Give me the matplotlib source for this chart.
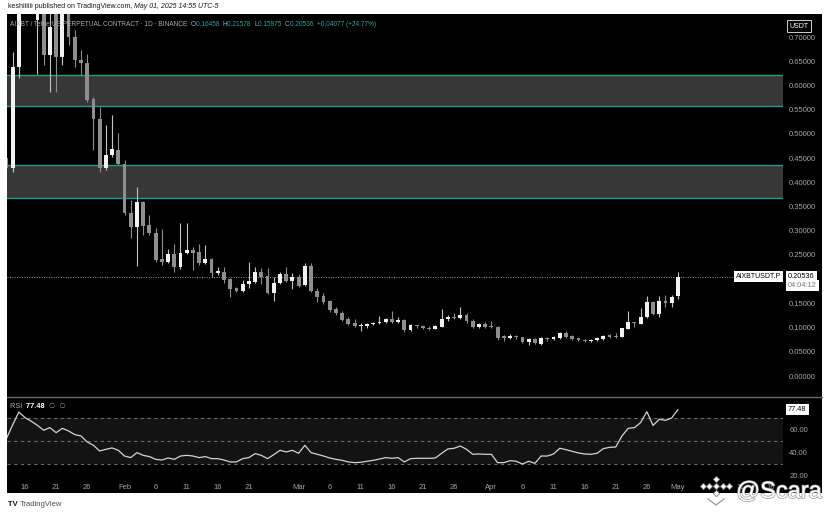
import numpy as np
import pandas as pd
import matplotlib
matplotlib.use("Agg")
import matplotlib.pyplot as plt
from matplotlib import patheffects, transforms
from matplotlib.patches import Rectangle
from matplotlib.lines import Line2D

plt.rcParams['font.family'] = ['Liberation Sans', 'DejaVu Sans']

# daily candles, AIXBTUSDT.P, starting 2025-01-13
start_date = "2025-01-13"
opens = [0.450, 0.430, 0.638, 0.870, 0.840, 0.735, 0.780, 0.663, 0.760, 0.659,
         0.760, 0.700, 0.653, 0.646, 0.572, 0.531, 0.430, 0.456, 0.467, 0.438,
         0.337, 0.308, 0.359, 0.312, 0.295, 0.242, 0.235, 0.252, 0.225, 0.254,
         0.260, 0.256, 0.233, 0.242, 0.213, 0.215, 0.200, 0.182, 0.176, 0.190,
         0.194, 0.215, 0.206, 0.171, 0.192, 0.211, 0.196, 0.204, 0.188, 0.227,
         0.176, 0.165, 0.155, 0.138, 0.130, 0.118, 0.109, 0.104, 0.103, 0.107,
         0.109, 0.111, 0.117, 0.112, 0.115, 0.095, 0.105, 0.103, 0.099, 0.098,
         0.101, 0.118, 0.121, 0.120, 0.126, 0.114, 0.101, 0.107, 0.104, 0.101,
         0.082, 0.078, 0.083, 0.080, 0.070, 0.076, 0.066, 0.078, 0.076, 0.078,
         0.089, 0.082, 0.078, 0.074, 0.073, 0.074, 0.076, 0.084, 0.082, 0.081,
         0.097, 0.112, 0.108, 0.122, 0.153, 0.128, 0.155, 0.150, 0.16458]
highs = [0.473, 0.669, 0.900, 0.950, 0.880, 0.800, 0.790, 0.760, 0.770, 0.780,
         0.770, 0.715, 0.673, 0.665, 0.576, 0.556, 0.518, 0.539, 0.502, 0.446,
         0.363, 0.390, 0.362, 0.332, 0.306, 0.304, 0.262, 0.273, 0.316, 0.316,
         0.266, 0.273, 0.270, 0.244, 0.225, 0.225, 0.202, 0.184, 0.198, 0.235,
         0.225, 0.223, 0.223, 0.204, 0.215, 0.225, 0.213, 0.211, 0.233, 0.233,
         0.182, 0.171, 0.157, 0.142, 0.134, 0.122, 0.118, 0.109, 0.109, 0.111,
         0.124, 0.120, 0.134, 0.122, 0.118, 0.107, 0.106, 0.105, 0.103, 0.105,
         0.138, 0.126, 0.130, 0.142, 0.130, 0.117, 0.109, 0.112, 0.114, 0.103,
         0.085, 0.087, 0.084, 0.081, 0.078, 0.078, 0.081, 0.080, 0.082, 0.091,
         0.093, 0.084, 0.079, 0.077, 0.077, 0.080, 0.085, 0.087, 0.088, 0.100,
         0.134, 0.112, 0.140, 0.165, 0.155, 0.165, 0.167, 0.167, 0.21578]
lows = [0.363, 0.421, 0.615, 0.790, 0.760, 0.624, 0.642, 0.586, 0.586, 0.642,
        0.684, 0.638, 0.622, 0.565, 0.467, 0.421, 0.425, 0.452, 0.436, 0.333,
        0.285, 0.227, 0.291, 0.291, 0.235, 0.229, 0.233, 0.215, 0.221, 0.252,
        0.219, 0.229, 0.231, 0.204, 0.208, 0.192, 0.163, 0.173, 0.173, 0.182,
        0.192, 0.190, 0.169, 0.155, 0.190, 0.194, 0.180, 0.184, 0.186, 0.173,
        0.153, 0.149, 0.132, 0.126, 0.113, 0.105, 0.101, 0.093, 0.099, 0.105,
        0.107, 0.109, 0.109, 0.109, 0.091, 0.093, 0.099, 0.097, 0.096, 0.097,
        0.101, 0.114, 0.118, 0.118, 0.110, 0.099, 0.099, 0.100, 0.099, 0.074,
        0.072, 0.076, 0.077, 0.068, 0.064, 0.066, 0.064, 0.072, 0.074, 0.076,
        0.078, 0.074, 0.072, 0.071, 0.071, 0.073, 0.074, 0.079, 0.079, 0.080,
        0.097, 0.101, 0.107, 0.120, 0.126, 0.122, 0.142, 0.142, 0.15975]
closes = [0.430, 0.638, 0.870, 0.840, 0.790, 0.780, 0.663, 0.720, 0.659, 0.760,
          0.700, 0.653, 0.646, 0.570, 0.531, 0.430, 0.456, 0.469, 0.438, 0.337,
          0.308, 0.359, 0.310, 0.295, 0.240, 0.235, 0.252, 0.225, 0.254, 0.260,
          0.254, 0.233, 0.242, 0.213, 0.217, 0.198, 0.180, 0.176, 0.190, 0.196,
          0.215, 0.204, 0.171, 0.192, 0.211, 0.196, 0.204, 0.186, 0.227, 0.176,
          0.163, 0.153, 0.136, 0.130, 0.116, 0.107, 0.103, 0.105, 0.107, 0.109,
          0.111, 0.117, 0.112, 0.115, 0.095, 0.105, 0.103, 0.099, 0.098, 0.103,
          0.118, 0.122, 0.120, 0.126, 0.114, 0.101, 0.107, 0.102, 0.101, 0.078,
          0.078, 0.083, 0.080, 0.070, 0.076, 0.068, 0.078, 0.076, 0.080, 0.089,
          0.080, 0.076, 0.074, 0.073, 0.074, 0.078, 0.083, 0.081, 0.0815, 0.099,
          0.112, 0.110, 0.122, 0.153, 0.128, 0.155, 0.151, 0.163, 0.20536]
rsi = [52.0, 64.0, 75.4, 70.5, 67.3, 63.7, 59.4, 61.7, 57.3, 61.1,
       58.8, 55.6, 54.4, 49.1, 46.2, 41.2, 42.7, 43.9, 41.8, 36.8,
       35.4, 39.8, 37.4, 36.3, 33.9, 33.3, 35.1, 33.9, 36.8, 37.4,
       36.8, 35.4, 36.3, 34.5, 34.5, 33.3, 31.6, 31.6, 34.5, 35.4,
       38.9, 37.4, 34.5, 38.0, 41.8, 40.4, 41.8, 39.2, 46.2, 39.8,
       38.3, 36.8, 35.1, 33.9, 33.0, 31.6, 31.0, 31.3, 32.2, 33.0,
       34.2, 35.4, 34.8, 35.4, 31.6, 34.5, 34.8, 34.8, 34.8, 35.1,
       39.2, 43.0, 43.6, 45.6, 42.7, 38.3, 38.6, 38.3, 38.3, 31.0,
       31.0, 32.7, 32.2, 29.8, 32.2, 30.4, 36.8, 36.8, 38.6, 43.6,
       42.4, 40.9, 39.5, 38.6, 38.3, 39.2, 43.3, 44.4, 44.7, 54.4,
       61.1, 61.7, 66.1, 75.7, 63.7, 69.0, 68.1, 70.2, 77.48]

# supply / demand zones
zones = [(0.558, 0.621), (0.368, 0.436)]

tick_dates = ["2025-01-16", "2025-01-21", "2025-01-26", "2025-02-01", "2025-02-06",
              "2025-02-11", "2025-02-16", "2025-02-21", "2025-03-01", "2025-03-06",
              "2025-03-11", "2025-03-16", "2025-03-21", "2025-03-26", "2025-04-01",
              "2025-04-06", "2025-04-11", "2025-04-16", "2025-04-21", "2025-04-26",
              "2025-05-01", "2025-05-06", "2025-05-11", "2025-05-16"]
tick_labels = ["16", "21", "26", "Feb", "6", "11", "16", "21", "Mar", "6", "11", "16",
               "21", "26", "Apr", "6", "11", "16", "21", "26", "May", "6", "11", "16"]
price_ticks = [0.0, 0.05, 0.10, 0.15, 0.25, 0.30, 0.35, 0.40, 0.45, 0.50, 0.55,
               0.60, 0.65, 0.70]
rsi_ticks = [20, 40, 60]

W, H = 828, 515
def fx(px):
    return px / W
def fy(py):
    return 1 - py / H

UP = '#f2f2f2'
UP_WICK = '#c4c4c4'
DOWN = '#8e8e8e'
TEAL = '#1f9e8f'
AXIS_TXT = '#a3a6ad'

fig = plt.figure(figsize=(8.28, 5.15), dpi=100, facecolor='white')
fig.add_artist(Rectangle((fx(7), fy(493)), fx(822) - fx(7), fy(14) - fy(493),
                         transform=fig.transFigure, facecolor='black',
                         edgecolor='none', zorder=0))

ax = fig.add_axes([fx(7), fy(396), fx(783) - fx(7), fy(14) - fy(396)])
ax_rsi = fig.add_axes([fx(7), fy(477), fx(783) - fx(7), fy(398) - fy(477)], sharex=ax)
for a in (ax, ax_rsi):
    a.set_facecolor('black')
    for sp in a.spines.values():
        sp.set_visible(False)
    a.tick_params(axis='both', length=0, labelsize=5.5, labelcolor=AXIS_TXT)
    a.yaxis.tick_right()

o = np.array(opens); h = np.array(highs); l = np.array(lows); c = np.array(closes)
x = np.arange(len(c))
up = c >= o
bottom = np.minimum(o, c)
height = np.maximum(np.abs(c - o), 0.0012)

for lo, hi in zones:
    ax.axhspan(lo, hi, facecolor='#373737', edgecolor='none', zorder=1)
    ax.axhline(lo, color=TEAL, lw=1.0, zorder=2)
    ax.axhline(hi, color=TEAL, lw=1.0, zorder=2)

ax.vlines(x[up], l[up], h[up], color=UP_WICK, lw=0.8, zorder=3)
ax.vlines(x[~up], l[~up], h[~up], color=DOWN, lw=0.8, zorder=3)
ax.bar(x[up], height[up], bottom=bottom[up], width=0.62, color=UP, lw=0, zorder=4)
ax.bar(x[~up], height[~up], bottom=bottom[~up], width=0.62, color=DOWN, lw=0, zorder=4)

ax.axhline(c[-1], color='#9a9a9a', lw=0.7, ls=(0, (1, 1.5)), zorder=2)

ax.set_xlim(0.1, 124.9)
ax.set_ylim(-0.0413, 0.7476)
ax.set_yticks(price_ticks)
ax.set_yticklabels([f"{v:.5f}" for v in price_ticks])
ax.tick_params(axis='y', pad=4.5)
ax.tick_params(axis='x', labelbottom=False)

# RSI pane
ax_rsi.axhspan(30, 70, facecolor='#131313', edgecolor='none', zorder=1)
for lvl in (30, 50, 70):
    ax_rsi.axhline(lvl, color='#6a6a6a', lw=0.8, ls=(0, (3, 3)), zorder=2)
ax_rsi.plot(x, rsi, color='#d1d4dc', lw=0.9, zorder=3)
ax_rsi.set_ylim(18.4, 87.7)
ax_rsi.set_yticks(rsi_ticks)
ax_rsi.set_yticklabels([f"{v:.2f}" for v in rsi_ticks])
ax_rsi.tick_params(axis='y', pad=4.5)
start = pd.Timestamp(start_date)
tick_pos = [(pd.Timestamp(d) - start).days for d in tick_dates]
ax_rsi.set_xticks(tick_pos)
ax_rsi.set_xticklabels(tick_labels)
ax_rsi.tick_params(axis='x', pad=5)

# pane separator
fig.add_artist(Line2D([fx(7), fx(822)], [fy(397), fy(397)], transform=fig.transFigure,
                      color='#6b6b6b', lw=1.0))

renderer = fig.canvas.get_renderer()

def seq_text(x_px, y_px, parts, size):
    for s, col, kw in parts:
        t = fig.text(fx(x_px), fy(y_px), s, color=col, fontsize=size,
                     ha='left', va='center', **kw)
        x_px += t.get_window_extent(renderer).width

seq_text(8, 7, [("keshiiiiii published on TradingView.com, ", '#131722', {}),
                ("May 01, 2025 14:55 UTC-5", '#131722', {'style': 'italic'})], 5.0)

seq_text(10, 25, [("AIXBT / TetherUS PERPETUAL CONTRACT \u00b7 1D \u00b7 BINANCE  ", '#a8abb2', {}),
                  ("O", '#a8abb2', {}), ("0.16458  ", '#26a69a', {}),
                  ("H", '#a8abb2', {}), ("0.21578  ", '#26a69a', {}),
                  ("L", '#a8abb2', {}), ("0.15975  ", '#26a69a', {}),
                  ("C", '#a8abb2', {}), ("0.20536  ", '#26a69a', {}),
                  ("+0.04077 (+24.77%)", '#26a69a', {})], 4.7)

seq_text(10, 406, [("RSI  ", '#a8abb2', {}), ("77.48  ", '#ffffff', {'fontweight': 'bold'}),
                   ("\u2205  \u2205", '#8a8a8a', {})], 5.3)

# right-side value labels
tr_main = transforms.blended_transform_factory(fig.transFigure, ax.transData)
tr_rsi = transforms.blended_transform_factory(fig.transFigure, ax_rsi.transData)
box = dict(boxstyle='square,pad=0.3', fc='white', ec='none')
ax.text(fx(781), c[-1], "AIXBTUSDT.P", transform=tr_main, ha='right', va='center',
        fontsize=5, color='black', bbox=box, clip_on=False, zorder=10)
ax.text(fx(788), c[-1], "0.20536", transform=tr_main, ha='left', va='center',
        fontsize=5.3, color='black', bbox=box, clip_on=False, zorder=10)
ax.text(fx(788), c[-1] - 0.019, "04:04:12", transform=tr_main, ha='left', va='center',
        fontsize=5.3, color='#777777', bbox=box, clip_on=False, zorder=10)
ax_rsi.text(fx(788), rsi[-1], "77.48", transform=tr_rsi, ha='left', va='center',
            fontsize=5.3, color='black', bbox=box, clip_on=False, zorder=10)
fig.text(fx(799), fy(26), "USDT", ha='center', va='center', fontsize=5, color='white',
         bbox=dict(boxstyle='square,pad=0.35', fc='black', ec='#cfcfcf', lw=0.7))

# footer
seq_text(8, 504, [("TV ", '#131722', {'fontweight': 'bold'}),
                  ("TradingView", '#4a4a4a', {})], 5.5)

# watermark
logo = [(716, 479), (709, 486), (723, 486), (716, 486), (716, 493), (703, 486), (729, 486)]
for px, py in logo:
    fig.add_artist(Line2D([fx(px)], [fy(py)], transform=fig.transFigure, marker='D',
                          markersize=3.2, mfc='white', mec='#7a7a7a', mew=0.6, ls='none'))
fig.add_artist(Line2D([fx(708), fx(716), fx(724)], [fy(499), fy(505), fy(499)],
                      transform=fig.transFigure, color='#9a9a9a', lw=0.9))
fig.text(fx(779), fy(492), "@Scara", ha='center', va='center', fontsize=17, color='white',
         path_effects=[patheffects.withStroke(linewidth=1.0, foreground='#9a9a9a')])

fig.savefig("out.png", dpi=100, facecolor='white')
